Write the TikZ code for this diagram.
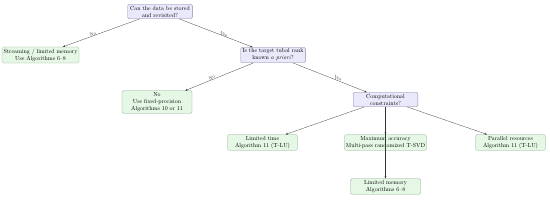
\documentclass[tikz,border=0pt]{standalone}
\usetikzlibrary{arrows.meta,calc}
\definecolor{qfill}{HTML}{E9E9FB}
\definecolor{qdraw}{HTML}{8A8AA8}
\definecolor{afill}{HTML}{E5F8E5}
\definecolor{adraw}{HTML}{88A888}
\begin{document}
\begin{tikzpicture}[x=1.7pt,y=-1.7pt,
  qbox/.style={draw=qdraw,fill=qfill,rounded corners=2.5pt,align=center,inner sep=2.8pt,font=\normalsize,line width=0.5pt,minimum width=110pt},
  abox/.style={draw=adraw,fill=afill,rounded corners=2.5pt,align=center,inner sep=2.8pt,font=\normalsize,line width=0.5pt,minimum width=119pt},
  conn/.style={-{Stealth[length=4pt,width=3pt]},line width=0.45pt,black!80},
  lab/.style={sloped,font=\footnotesize,inner sep=0.3pt,anchor=south,pos=0.6}]
\useasboundingbox (0,0) rectangle (550,201);
\node[qbox] (root) at (160,11.5) {Can the data be stored\\and revisited?};
\node[abox] (stream) at (40.5,55) {Streaming / limited memory\\Use Algorithms 6--8};
\node[qbox] (rank) at (273,55) {Is the target tubal rank\\known \emph{a priori}?};
\node[abox] (fixed) at (157,102) {No\\Use fixed-precision\\Algorithms 10 or 11};
\node[qbox] (comp) at (385.5,99.5) {Computational\\constraints?};
\node[abox] (time) at (262.5,142.5) {Limited time\\Algorithm 11 (T-LU)};
\node[abox] (acc) at (385.5,142.5) {Maximum accuracy\\Multi-pass randomized T-SVD};
\node[abox] (par) at (510.5,142.5) {Parallel resources\\Algorithm 11 (T-LU)};
\node[abox] (mem) at (385.5,186.5) {Limited memory\\Algorithms 6--8};
\draw[conn] (root) -- node[lab]{No} (stream);
\draw[conn] (root) -- node[lab]{Yes} (rank);
\draw[conn] (rank) -- node[lab]{No} (fixed);
\draw[conn] (rank) -- node[lab]{Yes} (comp);
\draw[conn] (comp) -- (time);
\draw[conn] (comp) -- (acc);
\draw[conn] (comp) -- (par);
\draw[conn,shorten <=44pt] (comp) -- (mem);
\end{tikzpicture}
\end{document}
